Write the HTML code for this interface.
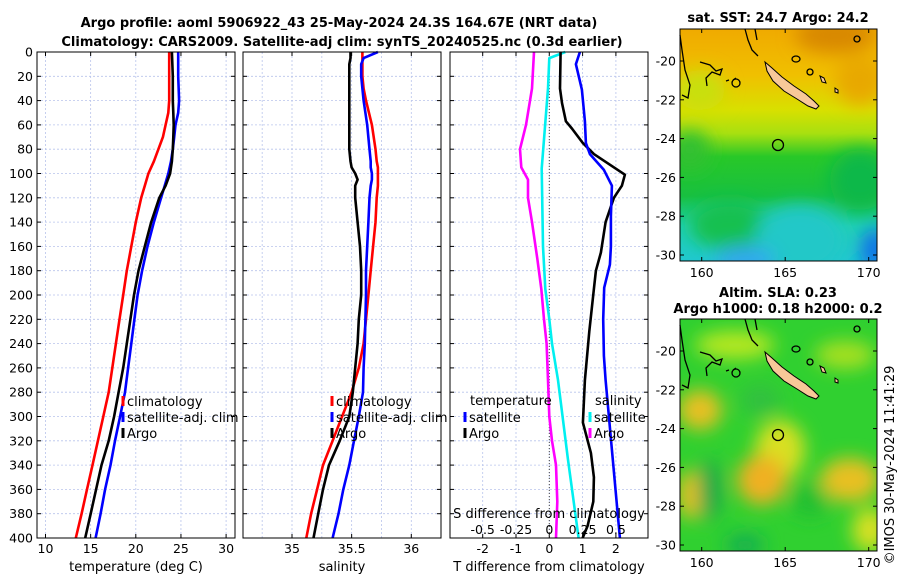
<!DOCTYPE html>
<html><head><meta charset="utf-8"><style>
html,body{margin:0;padding:0;background:#fff}
svg{display:block;font-family:"DejaVu Sans","Liberation Sans",sans-serif}
</style></head><body>
<svg id="fig" width="900" height="580" viewBox="0 0 900 580" xmlns="http://www.w3.org/2000/svg">
<defs>
<filter id="blur8" x="-50%" y="-50%" width="200%" height="200%"><feGaussianBlur stdDeviation="9"/></filter>
<clipPath id="clipTop"><rect x="680" y="29" width="197" height="232"/></clipPath>
<clipPath id="clipBot"><rect x="680" y="319" width="197" height="232"/></clipPath>
<linearGradient id="sstGrad" x1="0" y1="0" x2="0" y2="1">
<stop offset="0" stop-color="#f0aa00"/><stop offset="0.2" stop-color="#f0c000"/>
<stop offset="0.35" stop-color="#d8e000"/><stop offset="0.45" stop-color="#a8e010"/>
<stop offset="0.55" stop-color="#28c828"/><stop offset="0.72" stop-color="#18c040"/>
<stop offset="0.85" stop-color="#20d0b0"/><stop offset="1" stop-color="#20c8d0"/>
</linearGradient>
</defs>
<g font-weight="bold" font-size="13" text-anchor="middle">
<text x="339" y="27">Argo profile: aoml 5906922_43 25-May-2024 24.3S 164.67E (NRT data)</text>
<text x="342" y="46">Climatology: CARS2009. Satellite-adj clim: synTS_20240525.nc (0.3d earlier)</text>
</g>
<g id="panels"></g>

<g>
<text x="778" y="22" font-size="13" font-weight="bold" text-anchor="middle">sat. SST: 24.7 Argo: 24.2</text>
<g clip-path="url(#clipTop)">
<rect x="680" y="29" width="197" height="232" fill="url(#sstGrad)"/>
<g filter="url(#blur8)">
<ellipse cx="835" cy="35" rx="40" ry="18" fill="#d88800"/>
<ellipse cx="860" cy="80" rx="25" ry="25" fill="#e8a800"/>
<ellipse cx="700" cy="90" rx="25" ry="20" fill="#c8e010"/>
<ellipse cx="690" cy="150" rx="20" ry="20" fill="#30c030"/>
<ellipse cx="730" cy="225" rx="40" ry="25" fill="#18c050"/>
<ellipse cx="800" cy="240" rx="45" ry="35" fill="#20c8c8"/>
<ellipse cx="745" cy="260" rx="30" ry="14" fill="#30a8f0"/>
<ellipse cx="875" cy="250" rx="14" ry="22" fill="#1070e8"/>
<ellipse cx="860" cy="180" rx="30" ry="30" fill="#10b848"/>
</g>
</g>
<rect x="680" y="29" width="197" height="232" fill="none" stroke="#000" stroke-width="1"/>
</g>
<g>
<text x="778" y="297" font-size="13" font-weight="bold" text-anchor="middle">Altim. SLA: 0.23</text>
<text x="778" y="313" font-size="13" font-weight="bold" text-anchor="middle">Argo h1000: 0.18 h2000: 0.2</text>
<g clip-path="url(#clipBot)">
<rect x="680" y="319" width="197" height="232" fill="#30d030"/>
<g filter="url(#blur8)">
<ellipse cx="735" cy="345" rx="40" ry="14" fill="#b8e820"/>
<ellipse cx="845" cy="355" rx="30" ry="14" fill="#a8e020"/>
<ellipse cx="700" cy="410" rx="22" ry="20" fill="#e8c020"/>
<ellipse cx="780" cy="450" rx="25" ry="30" fill="#d8e020"/>
<ellipse cx="762" cy="480" rx="25" ry="25" fill="#f0b020"/>
<ellipse cx="850" cy="480" rx="30" ry="22" fill="#e8c020"/>
<ellipse cx="870" cy="530" rx="18" ry="22" fill="#d8e020"/>
<ellipse cx="690" cy="495" rx="12" ry="25" fill="#e8c020"/>
<ellipse cx="710" cy="490" rx="12" ry="30" fill="#20a848"/>
<ellipse cx="810" cy="500" rx="20" ry="18" fill="#20c030"/>
<ellipse cx="745" cy="545" rx="20" ry="12" fill="#18b050"/>
<ellipse cx="760" cy="400" rx="20" ry="15" fill="#30c040"/>
</g>
</g>
<rect x="680" y="319" width="197" height="232" fill="none" stroke="#000" stroke-width="1"/>
</g>
<text transform="translate(894,465) rotate(-90)" font-size="13" text-anchor="middle">©IMOS 30-May-2024 11:41:29</text>
</svg>
<script>
// ---- Data ----
const depthT = [0,20,40,50,60,70,80,90,100,110,120,140,160,180,200,220,240,260,280,300,320,340,360,380,400];
const tempClim = [23.7,23.7,23.7,23.6,23.3,23.0,22.5,22.0,21.4,21.0,20.6,20.0,19.5,19.0,18.6,18.2,17.8,17.4,17.0,16.4,15.8,15.2,14.6,14.0,13.35];
const tempSat = [24.7,24.7,24.8,24.7,24.4,24.25,24.1,23.9,23.6,23.2,22.8,22.0,21.3,20.7,20.2,19.85,19.5,19.15,18.8,18.26,17.7,17.2,16.6,16.1,15.55];
const tempArgo = [24.0,24.1,24.1,24.15,24.2,24.15,24.1,24.0,23.8,23.3,22.6,21.7,21.0,20.3,19.8,19.4,19.0,18.6,18.1,17.6,17.0,16.2,15.6,15.0,14.4];
const depthS = [0,5,10,20,30,40,60,80,90,95,100,105,110,120,140,160,180,200,220,240,260,280,300,320,340,360,380,400];
const salClim = [35.59,35.59,35.59,35.59,35.60,35.62,35.67,35.70,35.71,35.72,35.72,35.72,35.72,35.71,35.70,35.68,35.66,35.64,35.62,35.60,35.56,35.50,35.42,35.34,35.26,35.21,35.16,35.12];
const salSat = [35.72,35.60,35.58,35.58,35.59,35.60,35.63,35.65,35.66,35.66,35.67,35.67,35.66,35.65,35.64,35.63,35.62,35.62,35.615,35.61,35.60,35.595,35.56,35.52,35.48,35.43,35.39,35.34];
const salArgo = [35.49,35.49,35.48,35.48,35.48,35.48,35.48,35.48,35.49,35.50,35.53,35.55,35.53,35.53,35.55,35.57,35.58,35.58,35.56,35.55,35.53,35.51,35.48,35.40,35.31,35.26,35.22,35.18];
const depthDS = [0,30,60,80,95,105,120,140,170,195,220,240,270,300,320,340,370,400];
const dSalArgo = [-0.115,-0.13,-0.175,-0.22,-0.21,-0.16,-0.16,-0.13,-0.09,-0.06,-0.04,-0.02,-0.01,0.0,0.02,0.05,0.06,0.05];
const depthDSS = [0,5,30,96,160,195,220,240,270,335,400];
const dSalSat = [0.12,0.0,-0.01,-0.057,-0.047,-0.03,0.0,0.02,0.065,0.14,0.22];
const depthDT = [0,30,42,57,63,75,84,101,110,115,120,140,165,180,195,230,270,305,330,350,370,390,400];
const dTempArgo = [0.34,0.32,0.38,0.5,0.68,1.01,1.34,2.27,2.18,2.06,1.94,1.69,1.55,1.40,1.34,1.20,1.07,1.01,1.25,1.34,1.32,1.15,1.0];
const depthDTS = [0,10,31,57,75,84,97,110,135,160,175,194,220,250,270,400];
const dTempSat = [0.92,0.8,0.98,1.07,1.1,1.22,1.64,1.88,1.85,1.85,1.82,1.65,1.62,1.64,1.69,2.12];
const depthTicks = [0,20,40,60,80,100,120,140,160,180,200,220,240,260,280,300,320,340,360,380,400];
const tempTicks = [10,15,20,25,30];
const salTicks = [35,35.5,36];
const salGrid = [34.75,35,35.25,35.5,35.75,36];
const dTTicks = [-2,-1,0,1,2];
const dSTicks = [-0.5,-0.25,0,0.25,0.5];
const lonTicks = [160,165,170];
const latTicks = [-20,-22,-24,-26,-28,-30];

// ---- Axes ----
const NS="http://www.w3.org/2000/svg";
const Y0=52, Y1=538;
const yD = d => Y0 + d*(Y1-Y0)/400;
const P1={x0:37,x1:235}, P2={x0:243,x1:441}, P3={x0:450,x1:648};
const xT = t => 45.5 + (t-10)*9.03;
const xS = s => 292 + (s-35)*119.3;
const xDT = v => 549.3 + v*33.3;
const xDS = v => 549.3 + v*4*33.3;
const lonX = l => 701.7 + (l-160)*16.7;
const latY = l => 61 + (-20-l)*19.4;

const root=document.getElementById('panels');
function mk(tag,attrs,parent){const e=document.createElementNS(NS,tag);for(const k in attrs)e.setAttribute(k,attrs[k]);(parent||root).appendChild(e);return e;}
function txt(x,y,s,parent,extra){const e=mk('text',Object.assign({x:x,y:y,'font-size':12},extra||{}),parent);e.textContent=s;return e;}

function panel(P,name,xf,xGrid,xTickVals,xLabel,showY){
  const g=mk('g',{});
  
  
  mk('rect',{x:P.x0,y:Y0,width:P.x1-P.x0,height:Y1-Y0,fill:'#fff'},g);
  depthTicks.forEach(d=>{
    mk('line',{x1:P.x0,x2:P.x1,y1:yD(d),y2:yD(d),stroke:'#b8c4ec','stroke-width':0.8,'stroke-dasharray':'2,2'},g);
    mk('line',{x1:P.x0,x2:P.x0+4,y1:yD(d),y2:yD(d),stroke:'#000'},g);
    mk('line',{x1:P.x1,x2:P.x1-4,y1:yD(d),y2:yD(d),stroke:'#000'},g);
  });
  xGrid.forEach(v=>{const x=xf(v); if(x>P.x0 && x<P.x1){
    mk('line',{x1:x,x2:x,y1:Y0,y2:Y1,stroke:'#b8c4ec','stroke-width':0.8,'stroke-dasharray':'2,2'},g);}});
  xTickVals.forEach(v=>{const x=xf(v);
    mk('line',{x1:x,x2:x,y1:Y1,y2:Y1-4,stroke:'#000'},g);
    mk('line',{x1:x,x2:x,y1:Y0,y2:Y0+4,stroke:'#000'},g);
    const t=txt(x,553,String(v),g,{'text-anchor':'middle','font-size':12.5});
    
    
  });
  const xl=txt((P.x0+P.x1)/2,571,xLabel,g,{'text-anchor':'middle','font-size':13});
  
  
  if(showY){depthTicks.forEach(d=>{
    const t=txt(P.x0-4,yD(d)+4.5,String(d),g,{'text-anchor':'end','font-size':12.5});
    
    
  });}
  return g;
}
function line(g,xs,ds,xf,color,name,w){
  const pts=xs.map((v,i)=>xf(v).toFixed(1)+','+yD(ds[i]).toFixed(1)).join(' ');
  const p=mk('polyline',{points:pts,fill:'none',stroke:color,'stroke-width':w||2.6,'stroke-linejoin':'round'},g);
  
  
}
function legendEntry(g,x,y,color,label,name){
  mk('line',{x1:x,x2:x,y1:y-10,y2:y,stroke:color,'stroke-width':3},g);
  const t=txt(x+4,y,label,g,{'font-size':13});
  
  
}

const g1=panel(P1,'temperature-panel',xT,tempTicks,tempTicks,'temperature (deg C)',true);
line(g1,tempClim,depthT,xT,'#ff0000','temp-climatology-line');
line(g1,tempSat,depthT,xT,'#0000ff','temp-satellite-line');
line(g1,tempArgo,depthT,xT,'#000000','temp-argo-line');
legendEntry(g1,123,406,'#ff0000','climatology','legend-climatology');
legendEntry(g1,123,422,'#0000ff','satellite-adj. clim','legend-satellite-adj');
legendEntry(g1,123,438,'#000000','Argo','legend-argo');
mk('rect',{x:P1.x0,y:Y0,width:P1.x1-P1.x0,height:Y1-Y0,fill:'none',stroke:'#000'},g1);

const g2=panel(P2,'salinity-panel',xS,salGrid,salTicks,'salinity',false);
line(g2,salClim,depthS,xS,'#ff0000','sal-climatology-line');
line(g2,salSat,depthS,xS,'#0000ff','sal-satellite-line');
line(g2,salArgo,depthS,xS,'#000000','sal-argo-line');
legendEntry(g2,332,406,'#ff0000','climatology','legend-climatology-sal');
legendEntry(g2,332,422,'#0000ff','satellite-adj. clim','legend-satellite-adj-sal');
legendEntry(g2,332,438,'#000000','Argo','legend-argo-sal');
mk('rect',{x:P2.x0,y:Y0,width:P2.x1-P2.x0,height:Y1-Y0,fill:'none',stroke:'#000'},g2);

const g3=panel(P3,'difference-panel',xDT,dTTicks,dTTicks,'T difference from climatology',false);
mk('line',{x1:xDT(0),x2:xDT(0),y1:Y0,y2:Y1,stroke:'#444','stroke-width':1,'stroke-dasharray':'1,2'},g3);
line(g3,dSalArgo,depthDS,xDS,'#ff00ff','sal-argo-diff-line');
line(g3,dSalSat,depthDSS,xDS,'#00f0f0','sal-satellite-diff-line');
line(g3,dTempArgo,depthDT,xDT,'#000000','temp-argo-diff-line');
line(g3,dTempSat,depthDTS,xDT,'#0000ff','temp-satellite-diff-line');
txt(470,405,'temperature',g3,{'font-size':13});
legendEntry(g3,465,422,'#0000ff','satellite','legend-temp-satellite');
legendEntry(g3,465,438,'#000000','Argo','legend-temp-argo');
txt(595,405,'salinity',g3,{'font-size':13});
legendEntry(g3,590,422,'#00f0f0','satellite','legend-sal-satellite');
legendEntry(g3,590,438,'#ff00ff','Argo','legend-sal-argo');
const sl=txt(549,518,'S difference from climatology',g3,{'text-anchor':'middle','font-size':13});


dSTicks.forEach(v=>{
  const t=txt(xDS(v),534,String(v),g3,{'text-anchor':'middle','font-size':12.5});
  
  
});
mk('rect',{x:P3.x0,y:Y0,width:P3.x1-P3.x0,height:Y1-Y0,fill:'none',stroke:'#000'},g3);

const svg=document.getElementById('fig');
[0,290].forEach((off,mi)=>{
  const g=mk('g',{},svg);
  
  
  const T=29+off, B=261+off;
  lonTicks.forEach(l=>{const x=lonX(l);
    mk('line',{x1:x,x2:x,y1:B,y2:B-4,stroke:'#000'},g);
    mk('line',{x1:x,x2:x,y1:T,y2:T+4,stroke:'#000'},g);
    txt(x,B+16,String(l),g,{'text-anchor':'middle','font-size':12.5});
  });
  latTicks.forEach(l=>{const y=latY(l)+off;
    mk('line',{x1:877,x2:873,y1:y,y2:y,stroke:'#000'},g);
    mk('line',{x1:680,x2:684,y1:y,y2:y,stroke:'#000'},g);
    txt(676,y+4.5,String(l),g,{'font-size':12.5,'text-anchor':'end'});
  });
  const cg=mk('g',{transform:'translate(0,'+off+')',fill:'none',stroke:'#000','stroke-width':1.3},g);
  mk('path',{d:'M745,29 L748,40 L752,50 L758,56 M755,29 L757,40'},cg);
  mk('path',{d:'M700,62 L710,65 L716,71 L722,69 L720,75 L712,72 L706,78 L707,86'},cg);
  mk('path',{d:'M680,35 L682,50 L685,70 L690,85 L688,98 L682,95'},cg);
  mk('ellipse',{cx:736,cy:83,rx:4,ry:4},cg);
  mk('ellipse',{cx:796,cy:59,rx:4,ry:3},cg);
  mk('ellipse',{cx:810,cy:72,rx:3,ry:3},cg);
  mk('ellipse',{cx:857,cy:39,rx:3,ry:3},cg);
  mk('path',{d:'M733,80 L736,78 M726,81 L729,80'},cg);
  mk('polygon',{points:'765,62 772,68 782,77 794,86 806,94 814,101 819,106 816,109 808,106 797,99 784,91 773,81 767,71',fill:'#f8c898',stroke:'#000','stroke-width':1,transform:'translate(0,'+off+')'},g);
  mk('polygon',{points:'820,76 824,78 826,83 822,82',fill:'#f8c898',stroke:'#000','stroke-width':1,transform:'translate(0,'+off+')'},g);
  mk('polygon',{points:'835,88 838,90 838,93 835,92',fill:'#f8c898',stroke:'#000','stroke-width':1,transform:'translate(0,'+off+')'},g);
  const c=mk('circle',{cx:778,cy:145+off,r:5.5,fill:'none',stroke:'#000','stroke-width':1.3},g);
  
  
});
</script>
</body></html>
